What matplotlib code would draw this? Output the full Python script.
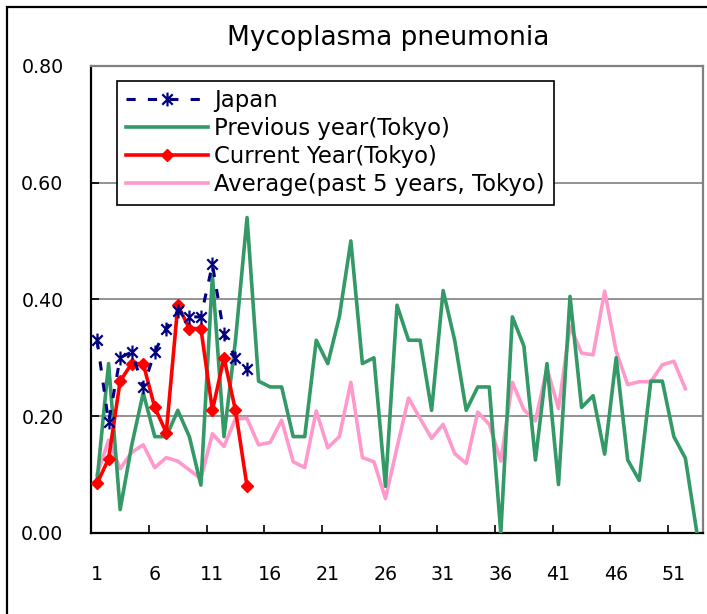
"""Weekly Mycoplasma pneumonia reports per sentinel: Japan vs Tokyo."""

import matplotlib
matplotlib.use('Agg')
import matplotlib.pyplot as plt
from matplotlib.path import Path
from matplotlib.patches import Rectangle
from matplotlib.ticker import FixedLocator, FuncFormatter


TITLE = 'Mycoplasma pneumonia'

LABELS = ['Japan', 'Previous year(Tokyo)', 'Current Year(Tokyo)',
          'Average(past 5 years, Tokyo)']

JAPAN = [0.33, 0.19, 0.30, 0.31, 0.25, 0.31, 0.35, 0.38, 0.37, 0.37,
         0.46, 0.34, 0.30, 0.28]

CURRENT = [0.085, 0.127, 0.26, 0.29, 0.29, 0.215, 0.172, 0.39, 0.35, 0.35,
           0.21, 0.30, 0.21, 0.08]

PREVIOUS = [0.09, 0.29, 0.04, 0.15, 0.24, 0.165, 0.165, 0.21, 0.165, 0.082,
            0.44, 0.165, 0.33, 0.54, 0.26, 0.25, 0.25, 0.165, 0.165, 0.33,
            0.29, 0.37, 0.50, 0.29, 0.30, 0.08, 0.39, 0.33, 0.33, 0.21,
            0.415, 0.33, 0.21, 0.25, 0.25, 0.0, 0.37, 0.32, 0.125, 0.29,
            0.083, 0.405, 0.215, 0.235, 0.135, 0.30, 0.125, 0.09, 0.26, 0.26,
            0.165, 0.128, 0.0]

AVERAGE = [0.10, 0.159, 0.11, 0.138, 0.151, 0.112, 0.129, 0.123, 0.108, 0.093,
           0.17, 0.148, 0.196, 0.196, 0.151, 0.155, 0.193, 0.122, 0.112, 0.209,
           0.146, 0.165, 0.258, 0.129, 0.122, 0.059, 0.146, 0.231, 0.196, 0.162,
           0.186, 0.136, 0.119, 0.207, 0.186, 0.123, 0.258, 0.211, 0.192, 0.282,
           0.213, 0.354, 0.308, 0.305, 0.414, 0.311, 0.254, 0.259, 0.259, 0.288,
           0.294, 0.247]

N_WEEKS = 53
WEEK_LABELS = list(range(1, N_WEEKS + 1, 5))
Y_TICKS = [0.0, 0.2, 0.4, 0.6, 0.8]

NAVY = '#000080'
GREEN = '#339966'
RED = '#ff0000'
PINK = '#ff99cc'
GRAY = '#808080'

# Excel style star: an X with a vertical bar through it
STAR = Path([(0, -1), (0, 1), (-0.75, -0.75), (0.75, 0.75),
             (-0.75, 0.75), (0.75, -0.75)],
            [Path.MOVETO, Path.LINETO] * 3)


def weeks(values):
    return list(range(1, len(values) + 1))


def main():
    plt.rcParams['font.family'] = ['DejaVu Sans']
    fig = plt.figure(figsize=(7.07, 6.14), dpi=100)
    ax = fig.add_axes([91.3 / 707, 1 - 533 / 614, 611.4 / 707, 467.3 / 614])

    ax.plot(weeks(AVERAGE), AVERAGE, color=PINK, lw=2.6, zorder=2,
            label=LABELS[3])
    ax.plot(weeks(PREVIOUS), PREVIOUS, color=GREEN, lw=2.6, zorder=3,
            label=LABELS[1])
    ax.plot(weeks(CURRENT), CURRENT, color=RED, lw=2.6, marker='D', ms=6.2,
            zorder=4, label=LABELS[2])
    ax.plot(weeks(JAPAN), JAPAN, color=NAVY, lw=2.2, ls=(0, (3, 4)),
            marker=STAR, ms=10, mew=1.6, zorder=5, label=LABELS[0])

    ax.set_xlim(0.5, N_WEEKS + 0.5)
    ax.set_ylim(0, 0.8)

    # ticks sit on category boundaries, labels on the categories
    ax.xaxis.set_major_locator(FixedLocator([w - 0.5 for w in WEEK_LABELS]))
    ax.xaxis.set_minor_locator(FixedLocator(WEEK_LABELS))
    ax.xaxis.set_major_formatter(FuncFormatter(lambda v, p: ''))
    ax.xaxis.set_minor_formatter(FuncFormatter(lambda v, p: f'{v:.0f}'))
    ax.tick_params(axis='x', which='major', direction='in', length=6,
                   width=1.2, color='black')
    ax.tick_params(axis='x', which='minor', length=0, pad=23, labelsize=13.7)

    ax.set_yticks(Y_TICKS)
    ax.yaxis.set_major_formatter(FuncFormatter(lambda v, p: f'{v:.2f}'))
    ax.tick_params(axis='y', direction='in', length=6, width=1.2,
                   color='black', pad=20, labelsize=13.7)
    ax.grid(axis='y', color=GRAY, lw=1.2)
    ax.set_axisbelow(True)

    for side in ('left', 'bottom'):
        ax.spines[side].set_color('black')
        ax.spines[side].set_linewidth(1.6)
    for side in ('top', 'right'):
        ax.spines[side].set_color(GRAY)
        ax.spines[side].set_linewidth(1.6)

    handles, labels = ax.get_legend_handles_labels()
    order = [labels.index(name) for name in LABELS]
    legend = ax.legend([handles[i] for i in order], [labels[i] for i in order],
                       loc='upper left', bbox_to_anchor=(0.042, 0.968),
                       borderaxespad=0, fontsize=16.4, numpoints=1,
                       handlelength=3.6, handletextpad=0.3, labelspacing=0.22,
                       borderpad=0.38, fancybox=False, framealpha=1,
                       edgecolor='black')
    legend.get_frame().set_linewidth(1.2)
    legend.set_zorder(10)

    fig.text(388 / 707, 1 - 38 / 614, TITLE, ha='center', va='center',
             fontsize=19)

    fig.patches.append(Rectangle((6.7 / 707, -0.1), 1.2, 1.1 - 6.7 / 614,
                                 transform=fig.transFigure, fill=False,
                                 edgecolor='black', lw=1.6))

    fig.savefig('out.png', dpi=100)


if __name__ == '__main__':
    main()
